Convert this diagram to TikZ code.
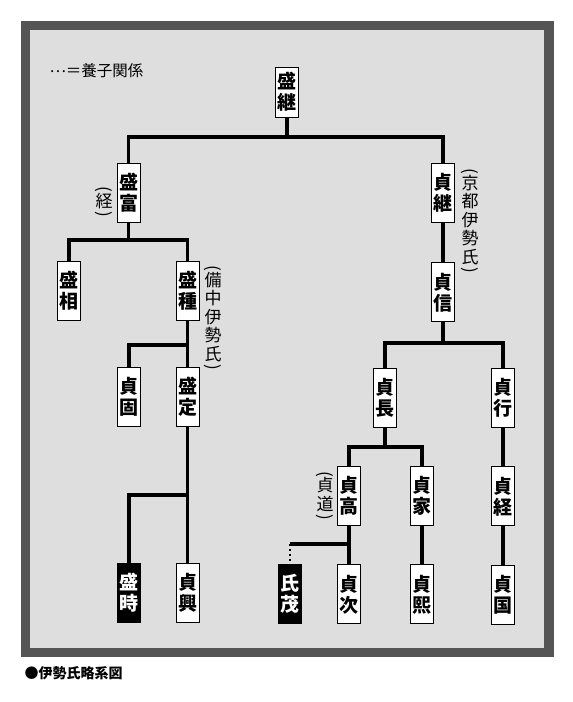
\documentclass[tikz,border=0pt]{standalone}
\usepackage{fontspec}
\usepackage{graphicx}
\setmainfont{Noto Sans CJK JP}
\usetikzlibrary{positioning}
\definecolor{FrameGray}{RGB}{85,85,85}
\definecolor{PanelGray}{RGB}{222,222,222}
\newcommand{\vopen}{\rotatebox[origin=c]{-90}{(}}
\newcommand{\vclose}{\rotatebox[origin=c]{-90}{)}}

\begin{document}
\begin{tikzpicture}[
    x=1pt, y=1pt,
    member/.style={rectangle, draw=black, fill=white, line width=0.8pt,
                   minimum width=23pt, minimum height=59pt, inner sep=0pt,
                   align=center, font=\fontsize{19}{21}\selectfont\bfseries},
    heir/.style={member, fill=black, text=white},
    note/.style={align=center, inner sep=0pt, font=\fontsize{17}{18.5}\selectfont},
    link/.style={line width=3.2pt},
]
    \useasboundingbox (0,0) rectangle (573,-702);
    \fill[FrameGray] (21,-21) rectangle (554,-657);
    \fill[PanelGray] (30,-30) rectangle (544,-648);

    \node[anchor=west, font=\fontsize{15.5}{15.5}\selectfont] (legend) at (46,-71) {\raisebox{0.3em}{…}＝養子関係};
    \node[anchor=west, font=\fontsize{14}{14}\selectfont\bfseries] (caption) at (21,-673) {●伊勢氏略系図};

    % family tree
    \node[member, minimum height=50pt] (moritsugu) at (287,-92) {盛\\継};
    \node[member] (moritomi) at (128.5,-192.5) {盛\\富};
    \node[member] (sadatsugu) at (443,-192.5) {貞\\継};
    \node[member] (moriaki) at (69,-291) {盛\\相};
    \node[member] (moritane) at (187.5,-291) {盛\\種};
    \node[member, below=40pt of sadatsugu] (sadanobu) {貞\\信};
    \node[member] (sadakata) at (129,-397) {貞\\固};
    \node[member] (morisada) at (187.5,-397) {盛\\定};
    \node[member] (sadanaga) at (385,-397.5) {貞\\長};
    \node[member] (sadayuki) at (503,-397.5) {貞\\行};
    \node[member] (sadataka) at (349,-495.5) {貞\\高};
    \node[member] (sadaie) at (422,-495.5) {貞\\家};
    \node[member, below=39pt of sadayuki] (sadatsune) {貞\\経};
    \node[heir] (moritoki) at (129,-593) {盛\\時};
    \node[member] (sadaoki) at (187.5,-593) {貞\\興};
    \node[heir] (ujishige) at (290,-593.5) {氏\\茂};
    \node[member, below=39pt of sadataka] (sadatsugi) {貞\\次};
    \node[member, below=39pt of sadaie] (sadahiro) {貞\\熙};
    \node[member, below=39pt of sadatsune] (sadakuni) {貞\\国};

    % other names
    \node[note] (tsune) at (104,-203) {\vopen\\[-6pt]経\\[-6pt]\vclose};
    \node[note] (bitchu) at (213,-319) {\vopen\\[-6pt]備\\中\\伊\\勢\\氏\\[-6pt]\vclose};
    \node[note] (kyoto) at (470,-222) {\vopen\\[-6pt]京\\都\\伊\\勢\\氏\\[-6pt]\vclose};
    \node[note] (sadamichi) at (325,-497) {\vopen\\[-6pt]貞\\道\\[-6pt]\vclose};

    % bar heights
    \coordinate (b1) at (0,-137);
    \coordinate (b2) at (0,-240);
    \coordinate (b3) at (0,-345);
    \coordinate (b4) at (0,-343);
    \coordinate (b5) at (0,-495);
    \coordinate (b6) at (0,-447);
    \coordinate (b7) at (0,-544);

    \draw[link] (moritsugu.south) -- (moritsugu |- b1);
    \draw[link] (moritomi.north) |- (sadatsugu |- b1) -- (sadatsugu.north);
    \draw[link] (moritomi.south) -- (moritomi |- b2);
    \draw[link] (moriaki.north) |- (moritane |- b2) -- (moritane.north);
    \draw[link] (moritane.south) -- (morisada.north);
    \draw[link] (sadakata.north) |- (morisada |- b3);
    \draw[link] (morisada.south) -- (sadaoki.north);
    \draw[link] (moritoki.north) |- (morisada |- b5);
    \draw[link] (sadatsugu.south) -- (sadanobu.north);
    \draw[link] (sadanobu.south) -- (sadanobu |- b4);
    \draw[link] (sadanaga.north) |- (sadayuki |- b4) -- (sadayuki.north);
    \draw[link] (sadanaga.south) -- (sadanaga |- b6);
    \draw[link] (sadataka.north) |- (sadaie |- b6) -- (sadaie.north);
    \draw[link] (sadataka.south) -- (sadatsugi.north);
    \draw[link] (sadataka |- b7) -- (ujishige |- b7);
    \draw[line width=2pt, dash pattern=on 2pt off 3pt] (ujishige |- b7) -- (ujishige.north);
    \draw[link] (sadaie.south) -- (sadahiro.north);
    \draw[link] (sadayuki.south) -- (sadatsune.north);
    \draw[link] (sadatsune.south) -- (sadakuni.north);
\end{tikzpicture}
\end{document}
